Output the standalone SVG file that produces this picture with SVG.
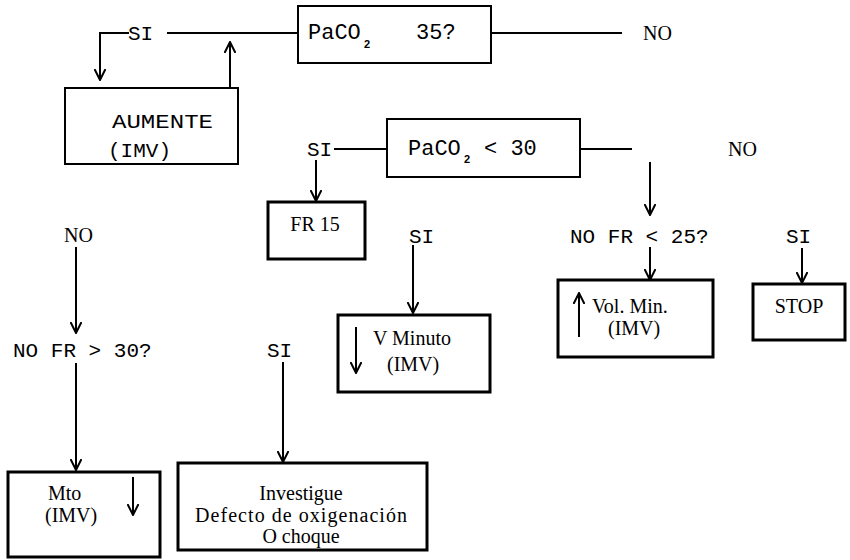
<svg xmlns="http://www.w3.org/2000/svg" width="850" height="560" viewBox="0 0 850 560">
<style>
.box{fill:#fff;stroke:#000;stroke-width:2}
.bx3{fill:#fff;stroke:#000;stroke-width:3}
.ln{fill:none;stroke:#000;stroke-width:2}
.mono{font-family:"Liberation Mono","Courier New",monospace;font-size:21px;fill:#000}
.big{font-size:22px}
.serif{font-family:"Liberation Serif","Times New Roman",serif;font-size:20px;fill:#000}
.sub{font-family:"Liberation Sans",Arial,sans-serif;font-size:11px;font-weight:bold;fill:#000}
</style>
<defs>
<marker id="ah" viewBox="0 0 12 12" refX="11" refY="6" markerWidth="12" markerHeight="12" markerUnits="userSpaceOnUse" orient="auto">
<path d="M0,0.5 L11,6 L0,11.5" fill="none" stroke="#000" stroke-width="2"/>
</marker>
</defs>
<rect width="850" height="560" fill="#fff"/>
<g id="connectors">
<path class="ln" d="M167,33 H298"/>
<path class="ln" d="M129,33 H100 V80" marker-end="url(#ah)"/>
<path class="ln" d="M230,88 V42" marker-end="url(#ah)"/>
<path class="ln" d="M491,33 H622"/>
<path class="ln" d="M334,149 H387"/>
<path class="ln" d="M316,160 V201" marker-end="url(#ah)"/>
<path class="ln" d="M580,149 H632"/>
<path class="ln" d="M650,162 V215" marker-end="url(#ah)"/>
<path class="ln" d="M650,247 V280" marker-end="url(#ah)"/>
<path class="ln" d="M802,248 V283" marker-end="url(#ah)"/>
<path class="ln" d="M413,245 V313" marker-end="url(#ah)"/>
<path class="ln" d="M76,247 V333" marker-end="url(#ah)"/>
<path class="ln" d="M76,363 V470" marker-end="url(#ah)"/>
<path class="ln" d="M283,362 V462" marker-end="url(#ah)"/>
</g>
<g id="labels">
<text class="mono" x="128" y="40">SI</text>
<text class="serif" x="643" y="40">NO</text>
<text class="mono" x="307" y="156">SI</text>
<text class="serif" x="728" y="156">NO</text>
<text class="mono" x="409" y="243">SI</text>
<text class="mono" x="570" y="243">NO FR &lt; 25?</text>
<text class="mono" x="786" y="243">SI</text>
<text class="serif" x="64" y="242">NO</text>
<text class="mono" x="13" y="357">NO FR &gt; 30?</text>
<text class="mono" x="267" y="357">SI</text>
</g>
<g id="n-paco2-35">
<rect class="box" x="298" y="6" width="193" height="57"/>
<text class="mono big" x="308" y="39">PaCO</text>
<text class="sub" x="364" y="48">2</text>
<text class="mono big" x="416" y="39">35?</text>
</g>
<g id="n-aumente">
<rect class="box" x="65" y="88" width="173" height="76"/>
<text class="mono" x="112" y="128" textLength="101" lengthAdjust="spacingAndGlyphs">AUMENTE</text>
<text class="mono" x="108" y="157">(IMV)</text>
</g>
<g id="n-paco2-30">
<rect class="box" x="387" y="119" width="193" height="58"/>
<text class="mono big" x="408" y="155">PaCO</text>
<text class="sub" x="464" y="163">2</text>
<text class="mono big" x="484" y="155">&lt; 30</text>
</g>
<g id="n-fr15">
<rect class="bx3" x="268" y="202" width="97" height="57"/>
<text class="serif" x="315" y="231" text-anchor="middle">FR 15</text>
</g>
<g id="n-vminuto">
<rect class="bx3" x="338" y="315" width="152" height="77"/>
<path class="ln" d="M356,327 V373" marker-end="url(#ah)"/>
<text class="serif" x="373" y="345">V Minuto</text>
<text class="serif" x="387" y="371">(IMV)</text>
</g>
<g id="n-volmin">
<rect class="bx3" x="558" y="280" width="155" height="77"/>
<path class="ln" d="M579,337 V293" marker-end="url(#ah)"/>
<text class="serif" x="592" y="313">Vol. Min.</text>
<text class="serif" x="608" y="335">(IMV)</text>
</g>
<g id="n-stop">
<rect class="bx3" x="753" y="284" width="92" height="56"/>
<text class="serif" x="799" y="313" text-anchor="middle">STOP</text>
</g>
<g id="n-mto">
<rect class="bx3" x="8" y="472" width="152" height="85"/>
<text class="serif" x="48" y="500">Mto</text>
<text class="serif" x="45" y="522">(IMV)</text>
<path class="ln" d="M133,477 V515" marker-end="url(#ah)"/>
</g>
<g id="n-investigue">
<rect class="bx3" x="178" y="463" width="249" height="87"/>
<text class="serif" x="301" y="500" text-anchor="middle">Investigue</text>
<text class="serif" x="301" y="522" text-anchor="middle" textLength="212" lengthAdjust="spacing">Defecto de oxigenación</text>
<text class="serif" x="301" y="543" text-anchor="middle">O choque</text>
</g>
</svg>
